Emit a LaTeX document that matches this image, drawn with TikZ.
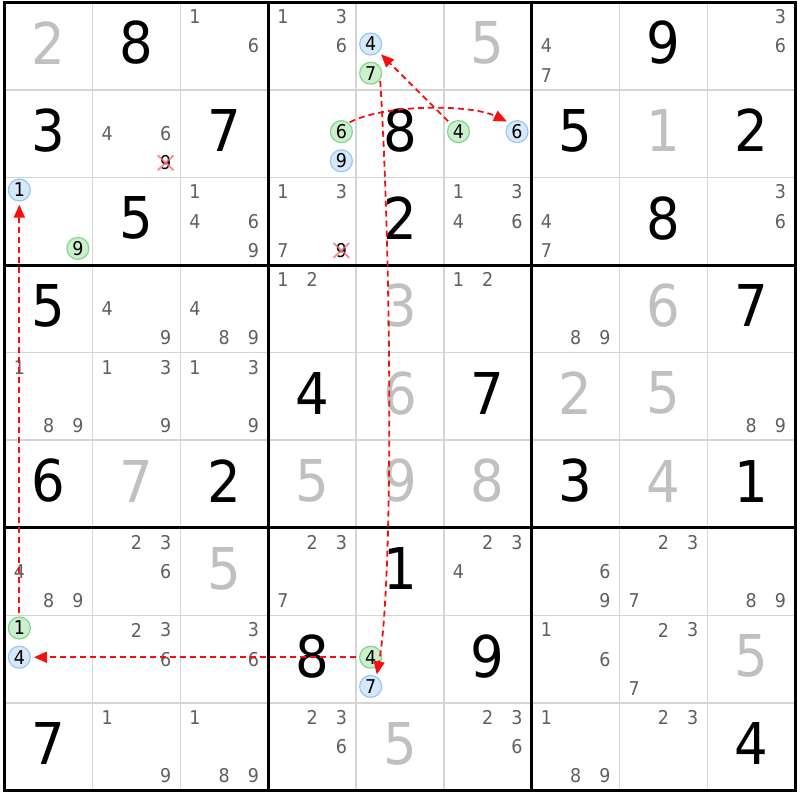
\documentclass[tikz,border=0pt]{standalone}
\usepackage{fontspec}
\setmainfont{DejaVu Sans}[FakeStretch=0.92]
\usetikzlibrary{arrows.meta,shapes.misc}
\definecolor{candc}{RGB}{95,95,95}
\definecolor{solc}{RGB}{192,192,192}
\definecolor{thinc}{RGB}{212,212,212}
\definecolor{bluefill}{RGB}{214,232,250}
\definecolor{blueline}{RGB}{150,200,245}
\definecolor{greenfill}{RGB}{204,240,206}
\definecolor{greenline}{RGB}{130,214,140}
\definecolor{linkc}{RGB}{245,15,15}
\definecolor{crossc}{RGB}{240,110,120}
\def\GL{4.7}\def\GT{2.2}\def\SX{87.83}\def\SY{87.6}
\newcommand{\putgiven}[3]{\node[bigdig,text=black] (v#1#2) at ({\GL+(#2-0.5)*\SX},{\GT+(#1-0.5)*\SY}) {#3};}
\newcommand{\putsolved}[3]{\node[bigdig,text=solc] (v#1#2) at ({\GL+(#2-0.5)*\SX},{\GT+(#1-0.5)*\SY}) {#3};}
\newcommand{\putcands}[3]{\foreach \n in {#3}{\node[cand] (k#1#2\n) at ({\GL+(#2-1)*\SX+(mod(\n-1,3)+0.5)*\SX/3},{\GT+(#1-1)*\SY+(floor((\n-1)/3)+0.5)*\SY/3}) {\n};}}
\newcommand{\putcirc}[4]{\node[cand,#4] (k#1#2#3) at ({\GL+(#2-1)*\SX+(mod(#3-1,3)+0.5)*\SX/3},{\GT+(#1-1)*\SY+(floor((#3-1)/3)+0.5)*\SY/3}) {#3};}
\newcommand{\putcross}[3]{\node[cand,text=black] (k#1#2#3) at ({\GL+(#2-1)*\SX+(mod(#3-1,3)+0.5)*\SX/3},{\GT+(#1-1)*\SY+(floor((#3-1)/3)+0.5)*\SY/3}) {#3};
\node[crossmark] (x#1#2#3) at (k#1#2#3) {};}
\begin{document}
\begin{tikzpicture}[x=1pt,y=-1pt,
  bigdig/.style={font=\fontsize{57.6}{60}\selectfont, inner sep=0pt, yshift=3pt},
  cand/.style={font=\fontsize{19}{20}\selectfont, inner sep=0pt, text=candc},
  bluecirc/.style={circle, draw=blueline, fill=bluefill, line width=1.2pt, minimum size=22pt, text=black, yshift=2pt},
  greencirc/.style={circle, draw=greenline, fill=greenfill, line width=1.2pt, minimum size=22pt, text=black, yshift=2pt},
  crossmark/.style={cross out, draw=crossc, line width=1.8pt, minimum width=14pt, minimum height=13pt, inner sep=0pt, opacity=0.8},
  link/.style={draw=linkc, line width=1.8pt, dash pattern=on 6pt off 4pt, -{Triangle[length=13pt,width=11pt]}, shorten >=3pt, shorten <=3pt},
  thinline/.style={draw=thinc, line width=1.5pt},
  boxline/.style={draw=black, line width=3pt}]
\useasboundingbox (0,0) rectangle (800,800);
\fill[white] (0,0) rectangle (800,800);
% grid
\foreach \i in {1,2,4,5,7,8}{
  \draw[thinline] ({\GL+\i*\SX},\GT) -- ({\GL+\i*\SX},{\GT+9*\SY});
  \draw[thinline] (\GL,{\GT+\i*\SY}) -- ({\GL+9*\SX},{\GT+\i*\SY});
}
\foreach \i in {0,3,6,9}{
  \draw[boxline] ({\GL+\i*\SX},{\GT-1.5}) -- ({\GL+\i*\SX},{\GT+9*\SY+1.5});
  \draw[boxline] ({\GL-1.5},{\GT+\i*\SY}) -- ({\GL+9*\SX+1.5},{\GT+\i*\SY});
}
% row 1
\putsolved{1}{1}{2} \putgiven{1}{2}{8} \putcands{1}{3}{1,6} \putcands{1}{4}{1,3,6}
\putcirc{1}{5}{4}{bluecirc} \putcirc{1}{5}{7}{greencirc}
\putsolved{1}{6}{5} \putcands{1}{7}{4,7} \putgiven{1}{8}{9} \putcands{1}{9}{3,6}
% row 2
\putgiven{2}{1}{3} \putcands{2}{2}{4,6} \putcross{2}{2}{9} \putgiven{2}{3}{7}
\putcirc{2}{4}{6}{greencirc} \putcirc{2}{4}{9}{bluecirc}
\putgiven{2}{5}{8}
\putcirc{2}{6}{4}{greencirc} \putcirc{2}{6}{6}{bluecirc}
\putgiven{2}{7}{5} \putsolved{2}{8}{1} \putgiven{2}{9}{2}
% row 3
\putcirc{3}{1}{1}{bluecirc} \putcirc{3}{1}{9}{greencirc}
\putgiven{3}{2}{5} \putcands{3}{3}{1,4,6,9} \putcands{3}{4}{1,3,7} \putcross{3}{4}{9}
\putgiven{3}{5}{2} \putcands{3}{6}{1,3,4,6} \putcands{3}{7}{4,7} \putgiven{3}{8}{8} \putcands{3}{9}{3,6}
% row 4
\putgiven{4}{1}{5} \putcands{4}{2}{4,9} \putcands{4}{3}{4,8,9} \putcands{4}{4}{1,2}
\putsolved{4}{5}{3} \putcands{4}{6}{1,2} \putcands{4}{7}{8,9} \putsolved{4}{8}{6} \putgiven{4}{9}{7}
% row 5
\putcands{5}{1}{1,8,9} \putcands{5}{2}{1,3,9} \putcands{5}{3}{1,3,9} \putgiven{5}{4}{4}
\putsolved{5}{5}{6} \putgiven{5}{6}{7} \putsolved{5}{7}{2} \putsolved{5}{8}{5} \putcands{5}{9}{8,9}
% row 6
\putgiven{6}{1}{6} \putsolved{6}{2}{7} \putgiven{6}{3}{2} \putsolved{6}{4}{5} \putsolved{6}{5}{9}
\putsolved{6}{6}{8} \putgiven{6}{7}{3} \putsolved{6}{8}{4} \putgiven{6}{9}{1}
% row 7
\putcands{7}{1}{4,8,9} \putcands{7}{2}{2,3,6} \putsolved{7}{3}{5} \putcands{7}{4}{2,3,7}
\putgiven{7}{5}{1} \putcands{7}{6}{2,3,4} \putcands{7}{7}{6,9} \putcands{7}{8}{2,3,7} \putcands{7}{9}{8,9}
% row 8
\putcirc{8}{1}{1}{greencirc} \putcirc{8}{1}{4}{bluecirc}
\putcands{8}{2}{2,3,6} \putcands{8}{3}{3,6} \putgiven{8}{4}{8}
\putcirc{8}{5}{4}{greencirc} \putcirc{8}{5}{7}{bluecirc}
\putgiven{8}{6}{9} \putcands{8}{7}{1,6} \putcands{8}{8}{2,3,7} \putsolved{8}{9}{5}
% row 9
\putgiven{9}{1}{7} \putcands{9}{2}{1,9} \putcands{9}{3}{1,8,9} \putcands{9}{4}{2,3,6}
\putsolved{9}{5}{5} \putcands{9}{6}{2,3,6} \putcands{9}{7}{1,8,9} \putcands{9}{8}{2,3} \putgiven{9}{9}{4}
% links
\draw[link] (k811) -- (k311);
\draw[link] (k854) -- (k814);
\draw[link, shorten <=1pt, shorten >=2pt] (k157.-35) .. controls (391,250) and (394,580) .. (k857.60);
\draw[link] (k264) -- (k154);
\draw[link, shorten <=1pt] (k246.50) .. controls (385,104) and (470,104) .. (k266.130);
\end{tikzpicture}
\end{document}
